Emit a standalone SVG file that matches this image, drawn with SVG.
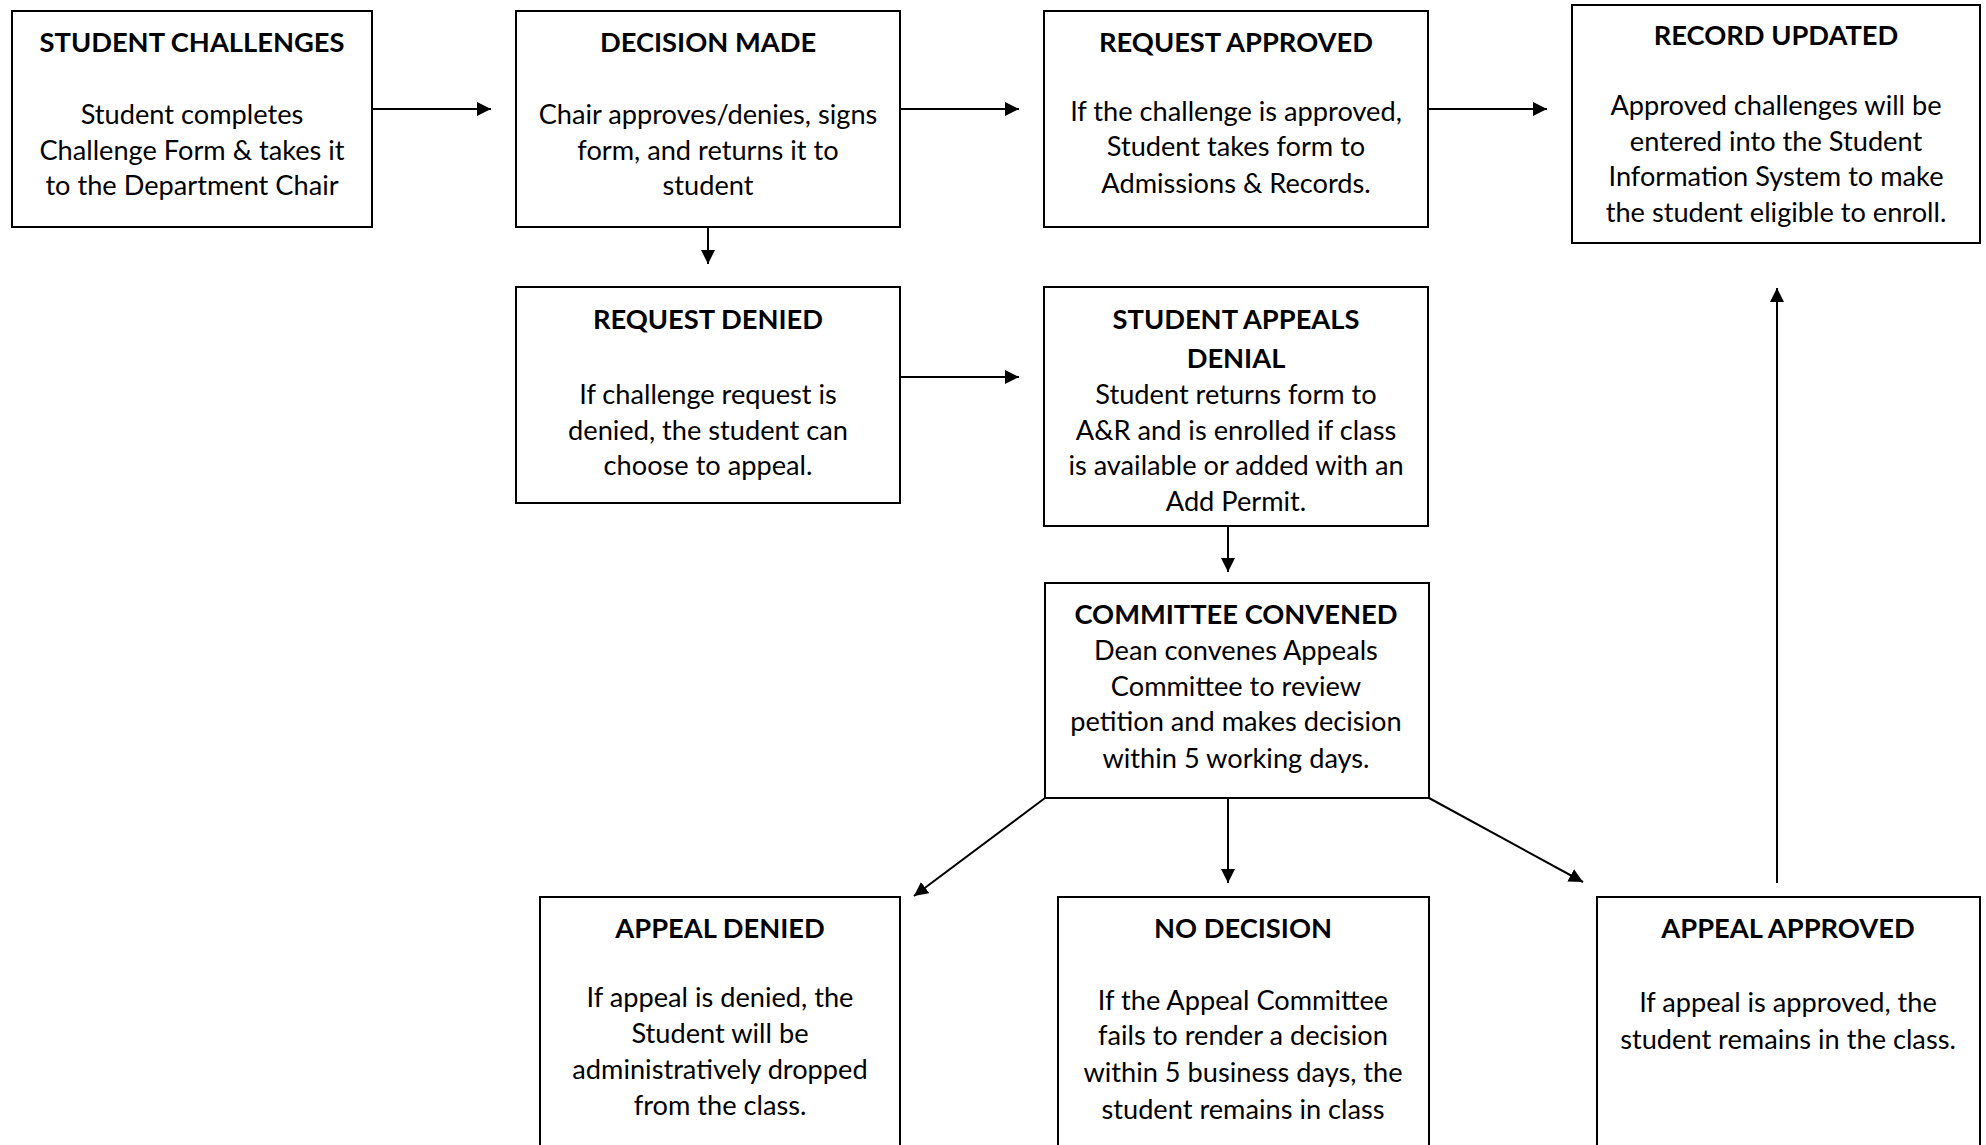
<svg xmlns="http://www.w3.org/2000/svg" width="1986" height="1145" viewBox="0 0 1986 1145">
<defs>
<style>
.box{fill:#fff;stroke:#000;stroke-width:2}
.t{font-family:Lato,"Liberation Sans",sans-serif;font-size:27.3px;font-weight:bold;text-anchor:middle;fill:#000}
.b{font-family:Lato,"Liberation Sans",sans-serif;font-size:27.2px;text-anchor:middle;fill:#000}
.c{stroke:#000;stroke-width:2;fill:none;marker-end:url(#ah)}
</style>
<marker id="ah" viewBox="0 0 14 14" refX="14" refY="7" markerWidth="14" markerHeight="14" markerUnits="userSpaceOnUse" orient="auto">
<path d="M0,0 L14,7 L0,14 Z" fill="#000"/>
</marker>
</defs>
<rect width="1986" height="1145" fill="#fff"/>
<g id="connectors">
<line class="c" x1="372" y1="109" x2="491" y2="109"/>
<line class="c" x1="900" y1="109" x2="1019" y2="109"/>
<line class="c" x1="1428" y1="109" x2="1547" y2="109"/>
<line class="c" x1="708" y1="217" x2="708" y2="264"/>
<line class="c" x1="900" y1="377" x2="1019" y2="377"/>
<line class="c" x1="1228" y1="526" x2="1228" y2="572"/>
<line class="c" x1="1045" y1="798" x2="914" y2="896"/>
<line class="c" x1="1228" y1="798" x2="1228" y2="883"/>
<line class="c" x1="1429" y1="798" x2="1583" y2="882"/>
<line class="c" x1="1777" y1="883" x2="1777" y2="288"/>
</g>
<g id="student-challenges">
<rect class="box" x="12" y="11" width="360" height="216"/>
<text class="t" x="192" y="52">STUDENT CHALLENGES</text>
<text class="b" x="192" y="124">Student completes</text>
<text class="b" x="192" y="160">Challenge Form &amp; takes it</text>
<text class="b" x="192" y="195">to the Department Chair</text>
</g>
<g id="decision-made">
<rect class="box" x="516" y="11" width="384" height="216"/>
<text class="t" x="708" y="52">DECISION MADE</text>
<text class="b" x="708" y="124">Chair approves/denies, signs</text>
<text class="b" x="708" y="160">form, and returns it to</text>
<text class="b" x="708" y="195">student</text>
</g>
<g id="request-approved">
<rect class="box" x="1044" y="11" width="384" height="216"/>
<text class="t" x="1236" y="52">REQUEST APPROVED</text>
<text class="b" x="1236" y="121">If the challenge is approved,</text>
<text class="b" x="1236" y="156">Student takes form to</text>
<text class="b" x="1236" y="193">Admissions &amp; Records.</text>
</g>
<g id="record-updated">
<rect class="box" x="1572" y="5" width="408" height="238"/>
<text class="t" x="1776" y="45">RECORD UPDATED</text>
<text class="b" x="1776" y="115">Approved challenges will be</text>
<text class="b" x="1776" y="151">entered into the Student</text>
<text class="b" x="1776" y="186">Information System to make</text>
<text class="b" x="1776" y="222">the student eligible to enroll.</text>
</g>
<g id="request-denied">
<rect class="box" x="516" y="287" width="384" height="216"/>
<text class="t" x="708" y="329">REQUEST DENIED</text>
<text class="b" x="708" y="404">If challenge request is</text>
<text class="b" x="708" y="440">denied, the student can</text>
<text class="b" x="708" y="475">choose to appeal.</text>
</g>
<g id="student-appeals-denial">
<rect class="box" x="1044" y="287" width="384" height="239"/>
<text class="t" x="1236" y="329">STUDENT APPEALS</text>
<text class="t" x="1236" y="368">DENIAL</text>
<text class="b" x="1236" y="404">Student returns form to</text>
<text class="b" x="1236" y="440">A&amp;R and is enrolled if class</text>
<text class="b" x="1236" y="475">is available or added with an</text>
<text class="b" x="1236" y="511">Add Permit.</text>
</g>
<g id="committee-convened">
<rect class="box" x="1045" y="583" width="384" height="215"/>
<text class="t" x="1236" y="624">COMMITTEE CONVENED</text>
<text class="b" x="1236" y="660">Dean convenes Appeals</text>
<text class="b" x="1236" y="696">Committee to review</text>
<text class="b" x="1236" y="731">petition and makes decision</text>
<text class="b" x="1236" y="768">within 5 working days.</text>
</g>
<g id="appeal-denied">
<rect class="box" x="540" y="897" width="360" height="300"/>
<text class="t" x="720" y="938">APPEAL DENIED</text>
<text class="b" x="720" y="1007">If appeal is denied, the</text>
<text class="b" x="720" y="1043">Student will be</text>
<text class="b" x="720" y="1079">administratively dropped</text>
<text class="b" x="720" y="1115">from the class.</text>
</g>
<g id="no-decision">
<rect class="box" x="1058" y="897" width="371" height="300"/>
<text class="t" x="1243" y="938">NO DECISION</text>
<text class="b" x="1243" y="1010">If the Appeal Committee</text>
<text class="b" x="1243" y="1045">fails to render a decision</text>
<text class="b" x="1243" y="1082">within 5 business days, the</text>
<text class="b" x="1243" y="1119">student remains in class</text>
</g>
<g id="appeal-approved">
<rect class="box" x="1597" y="897" width="383" height="300"/>
<text class="t" x="1788" y="938">APPEAL APPROVED</text>
<text class="b" x="1788" y="1012">If appeal is approved, the</text>
<text class="b" x="1788" y="1049">student remains in the class.</text>
</g>
</svg>
